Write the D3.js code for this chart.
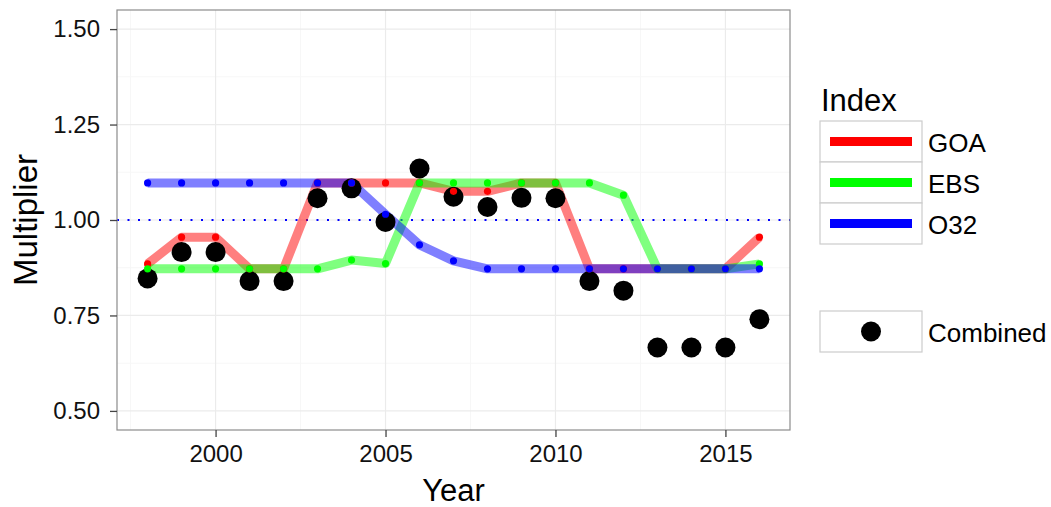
<!DOCTYPE html>
<html>
  <head>
    <meta charset="utf-8" />
    <script src="https://d3js.org/d3.v7.min.js"></script>
    <style>
        body {margin: 0; background: #fff;}
        text {font-family: "Liberation Sans", Arial, sans-serif;}
    </style>
  </head>
  <body>
    <svg id="viz"></svg>
    <script>
        // values
        var years = [1998, 1999, 2000, 2001, 2002, 2003, 2004, 2005, 2006, 2007,
                     2008, 2009, 2010, 2011, 2012, 2013, 2014, 2015, 2016];
        var goa = [0.885, 0.955, 0.955, 0.872, 0.872, 1.097, 1.097, 1.097, 1.097, 1.075,
                   1.075, 1.097, 1.097, 0.872, 0.872, 0.872, 0.872, 0.872, 0.955];
        var ebs = [0.872, 0.872, 0.872, 0.872, 0.872, 0.872, 0.895, 0.886, 1.097, 1.097,
                   1.097, 1.097, 1.097, 1.097, 1.065, 0.872, 0.872, 0.872, 0.885];
        var o32 = [1.097, 1.097, 1.097, 1.097, 1.097, 1.097, 1.097, 1.015, 0.935, 0.893,
                   0.872, 0.872, 0.872, 0.872, 0.872, 0.872, 0.872, 0.872, 0.872];
        var combined = [0.847, 0.916, 0.916, 0.840, 0.840, 1.057, 1.083, 0.995, 1.135, 1.061,
                        1.034, 1.058, 1.057, 0.840, 0.815, 0.666, 0.666, 0.666, 0.740];
        var seriesNames = ["GOA", "EBS", "O32"];
        var seriesColors = ["#ff0000", "#00ff00", "#0000ff"];
        var xTicks = [2000, 2005, 2010, 2015];
        var yTicks = [0.50, 0.75, 1.00, 1.25, 1.50];

        var width = 1051, height = 507;
        var panel = {left: 117, right: 790, top: 10, bottom: 430};

        var svg = d3.select("#viz")
            .attr("width", width)
            .attr("height", height);

        var x = d3.scaleLinear().domain([1997.1, 2016.9]).range([panel.left, panel.right]);
        var y = d3.scaleLinear().domain([0.45, 1.55]).range([panel.bottom, panel.top]);

        // panel background + grid
        svg.append("rect")
            .attr("x", panel.left).attr("y", panel.top)
            .attr("width", panel.right - panel.left).attr("height", panel.bottom - panel.top)
            .attr("fill", "#fff");

        var grid = svg.append("g");
        var minorX = [1997.5, 2002.5, 2007.5, 2012.5];
        var minorY = [0.625, 0.875, 1.125, 1.375];
        grid.selectAll(".mx").data(minorX).enter().append("line")
            .attr("x1", x).attr("x2", x).attr("y1", panel.top).attr("y2", panel.bottom)
            .attr("stroke", "#f7f7f7").attr("stroke-width", 1);
        grid.selectAll(".my").data(minorY).enter().append("line")
            .attr("y1", y).attr("y2", y).attr("x1", panel.left).attr("x2", panel.right)
            .attr("stroke", "#f7f7f7").attr("stroke-width", 1);
        grid.selectAll(".gx").data(xTicks).enter().append("line")
            .attr("x1", x).attr("x2", x).attr("y1", panel.top).attr("y2", panel.bottom)
            .attr("stroke", "#ebebeb").attr("stroke-width", 1.2);
        grid.selectAll(".gy").data(yTicks).enter().append("line")
            .attr("y1", y).attr("y2", y).attr("x1", panel.left).attr("x2", panel.right)
            .attr("stroke", "#ebebeb").attr("stroke-width", 1.2);

        // dotted reference line at 1
        svg.append("line")
            .attr("x1", panel.left).attr("x2", panel.right)
            .attr("y1", y(1)).attr("y2", y(1))
            .attr("stroke", "#0000ff").attr("stroke-width", 2)
            .attr("stroke-dasharray", "2,8.5");

        var series = [goa, ebs, o32];
        var line = d3.line()
            .x(function(d, i) { return x(years[i]); })
            .y(function(d) { return y(d); });

        // thick translucent lines
        svg.append("g").selectAll("path")
            .data(series).enter().append("path")
            .attr("d", line)
            .attr("fill", "none")
            .attr("stroke", function(d, i) { return seriesColors[i]; })
            .attr("stroke-opacity", 0.5)
            .attr("stroke-width", 9)
            .attr("stroke-linejoin", "round");

        // combined points
        svg.append("g").selectAll("circle")
            .data(combined).enter().append("circle")
            .attr("cx", function(d, i) { return x(years[i]); })
            .attr("cy", function(d) { return y(d); })
            .attr("r", 10)
            .attr("fill", "#000");

        // small dots on each index
        series.forEach(function(s, k) {
            svg.append("g").selectAll("circle")
                .data(s).enter().append("circle")
                .attr("cx", function(d, i) { return x(years[i]); })
                .attr("cy", function(d) { return y(d); })
                .attr("r", 3.6)
                .attr("fill", seriesColors[k]);
        });

        // panel border
        svg.append("rect")
            .attr("x", panel.left).attr("y", panel.top)
            .attr("width", panel.right - panel.left).attr("height", panel.bottom - panel.top)
            .attr("fill", "none").attr("stroke", "#8c8c8c").attr("stroke-width", 1.2);

        // axes
        var xAxis = svg.append("g")
            .attr("transform", "translate(0," + panel.bottom + ")")
            .call(d3.axisBottom(x).tickValues(xTicks).tickFormat(d3.format("d")).tickSize(7).tickPadding(8));
        var yAxis = svg.append("g")
            .attr("transform", "translate(" + panel.left + ",0)")
            .call(d3.axisLeft(y).tickValues(yTicks).tickFormat(d3.format(".2f")).tickSize(7).tickPadding(10));
        [xAxis, yAxis].forEach(function(a) {
            a.select(".domain").remove();
            a.selectAll(".tick line").attr("stroke", "#444").attr("stroke-width", 1.3);
            a.selectAll(".tick text").attr("fill", "#111")
                .style("font-size", "24px").style("font-family", "Liberation Sans, Arial, sans-serif");
        });

        svg.append("text")
            .attr("x", (panel.left + panel.right) / 2).attr("y", 501)
            .attr("text-anchor", "middle")
            .style("font-size", "31px").attr("fill", "#000")
            .text("Year");
        svg.append("text")
            .attr("transform", "translate(37," + (panel.top + panel.bottom) / 2 + ") rotate(-90)")
            .attr("text-anchor", "middle")
            .style("font-size", "33px").attr("fill", "#000")
            .text("Multiplier");

        // legend
        var leg = svg.append("g").attr("transform", "translate(820,0)");
        leg.append("text").attr("x", 1).attr("y", 111)
            .style("font-size", "31px").attr("fill", "#000").text("Index");
        var keyW = 102, keyH = 41, keyTop = 121;
        seriesNames.forEach(function(name, i) {
            var ty = keyTop + i * keyH;
            leg.append("rect").attr("x", 0).attr("y", ty).attr("width", keyW).attr("height", keyH)
                .attr("fill", "#fff").attr("stroke", "#cccccc").attr("stroke-width", 1.2);
            leg.append("line").attr("x1", 10).attr("x2", 92)
                .attr("y1", ty + keyH / 2).attr("y2", ty + keyH / 2)
                .attr("stroke", seriesColors[i]).attr("stroke-width", 9);
            leg.append("text").attr("x", 108).attr("y", ty + keyH / 2 + 10)
                .style("font-size", "26px").attr("fill", "#000").text(name);
        });
        var cTop = 311;
        leg.append("rect").attr("x", 0).attr("y", cTop).attr("width", keyW).attr("height", keyH)
            .attr("fill", "#fff").attr("stroke", "#cccccc").attr("stroke-width", 1.2);
        leg.append("circle").attr("cx", keyW / 2).attr("cy", cTop + keyH / 2).attr("r", 10).attr("fill", "#000");
        leg.append("text").attr("x", 108).attr("y", cTop + keyH / 2 + 10)
            .style("font-size", "26px").attr("fill", "#000").text("Combined");
    </script>
  </body>
</html>
